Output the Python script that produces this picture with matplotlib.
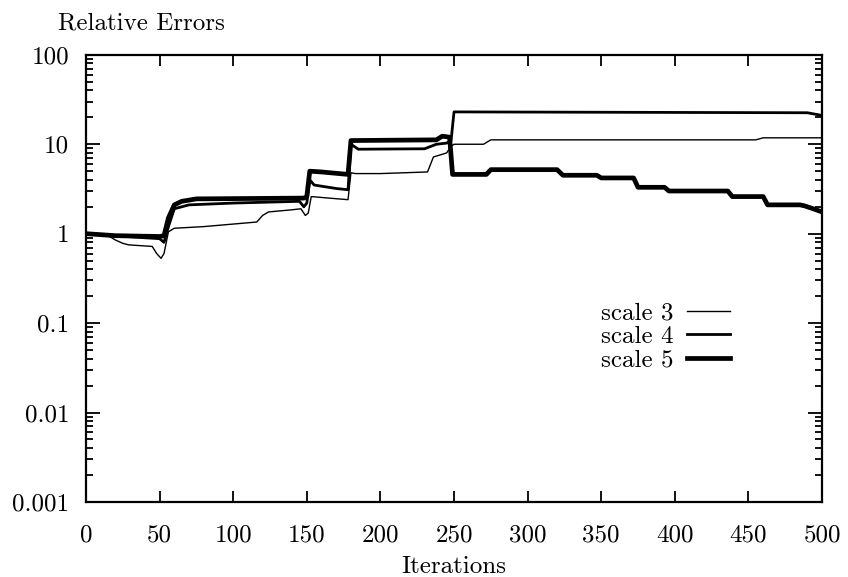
import matplotlib
matplotlib.use("Agg")
import matplotlib.pyplot as plt
from matplotlib.ticker import LogLocator, NullFormatter, FixedLocator

plt.rcParams["font.family"] = ["cmr10", "DejaVu Serif"]
plt.rcParams["axes.formatter.use_mathtext"] = True

# ── Data (iterations, relative error) ───────────────────────────────────────
s3_iter = [0, 15, 20, 25, 29, 45, 48, 51, 53, 56, 60, 80, 116, 120, 124, 140,
           146, 149, 151, 153, 165, 178, 180, 183, 200, 232, 236, 245, 248,
           250, 270, 275, 455, 460, 500]
s3_err = [1.0, 0.95, 0.85, 0.78, 0.75, 0.72, 0.6, 0.53, 0.6, 1.05, 1.15, 1.2,
          1.35, 1.6, 1.75, 1.85, 1.9, 1.6, 1.7, 2.6, 2.5, 2.4, 4.8, 4.7, 4.7,
          4.9, 7.2, 8.0, 9.5, 10.0, 10.0, 11.2, 11.2, 11.8, 11.8]

s4_iter = [0, 20, 40, 50, 53, 56, 60, 70, 100, 145, 148, 150, 152, 155, 170,
           178, 180, 185, 230, 238, 245, 248, 250, 490, 500]
s4_err = [1.0, 0.95, 0.9, 0.88, 0.8, 1.2, 1.9, 2.1, 2.2, 2.3, 2.0, 2.2, 4.0,
          3.5, 3.2, 3.1, 10.0, 8.8, 8.9, 10.0, 10.3, 11.0, 23.0, 22.5, 21.0]

s5_iter = [0, 20, 50, 53, 56, 60, 65, 75, 148, 150, 152, 160, 178, 180, 238,
           242, 247, 249, 272, 275, 320, 324, 347, 350, 372, 375, 393, 396,
           436, 439, 460, 463, 485, 488, 494, 500]
s5_err = [1.0, 0.95, 0.93, 0.95, 1.5, 2.1, 2.3, 2.45, 2.5, 2.6, 5.0, 4.9, 4.6,
          11.0, 11.2, 12.3, 12.0, 4.6, 4.6, 5.2, 5.2, 4.5, 4.5, 4.2, 4.2, 3.3,
          3.3, 3.0, 3.0, 2.6, 2.6, 2.1, 2.1, 2.05, 1.9, 1.75]

x_ticks = [0, 50, 100, 150, 200, 250, 300, 350, 400, 450, 500]
y_ticks = [0.001, 0.01, 0.1, 1, 10, 100]
y_labels = ["0.001", "0.01", "0.1", "1", "10", "100"]

FS = 18

fig = plt.figure(figsize=(8.48, 5.77), dpi=100)
ax = fig.add_axes([0.1014, 0.13, 0.868, 0.775])

ax.plot(s3_iter, s3_err, color="black", lw=1.0, label="scale 3")
ax.plot(s4_iter, s4_err, color="black", lw=2.0, label="scale 4")
ax.plot(s5_iter, s5_err, color="black", lw=3.4, label="scale 5")

ax.set_yscale("log")
ax.set_xlim(0, 500)
ax.set_ylim(0.001, 100)

ax.xaxis.set_major_locator(FixedLocator(x_ticks))
ax.set_xticklabels([str(t) for t in x_ticks])
ax.yaxis.set_major_locator(FixedLocator(y_ticks))
ax.set_yticklabels(y_labels)
ax.yaxis.set_minor_locator(LogLocator(base=10, subs=range(2, 10)))
ax.yaxis.set_minor_formatter(NullFormatter())

ax.tick_params(which="both", direction="in", top=True, right=True,
               labelsize=FS, width=1.3)
ax.tick_params(axis="x", which="major", length=8, pad=16)
ax.tick_params(axis="y", which="major", length=10, pad=12)
ax.tick_params(axis="y", which="minor", length=5)
for sp in ax.spines.values():
    sp.set_linewidth(1.6)

ax.set_xlabel("Iterations", fontsize=FS, labelpad=7)
fig.text(0.068, 0.96, "Relative Errors", fontsize=FS, ha="left", va="center")

ax.legend(loc="center", bbox_to_anchor=(0.787, 0.369), frameon=False,
          markerfirst=False, fontsize=FS, handlelength=1.7, labelspacing=0.05,
          handletextpad=0.56)

plt.savefig("out.png", dpi=100)
